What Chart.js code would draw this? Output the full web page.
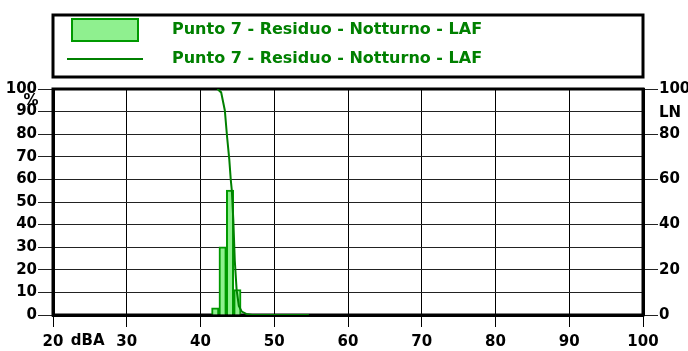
<!DOCTYPE html>
<html lang="it">
<head>
  <meta charset="UTF-8" />
  <title>Punto 7 - Residuo - Notturno - LAF</title>
  <style>
    * { margin: 0; padding: 0; box-sizing: border-box; }
    body { background: white; width: 688px; height: 351px; overflow: hidden; }
    #wrap { position: relative; width: 688px; height: 351px; }
  </style>
</head>
<body>
  <div id="wrap"><canvas id="chartCanvas" width="688" height="351"></canvas></div>

  <script src="https://cdn.jsdelivr.net/npm/chart.js"></script>
  <script>
    // Distribuzione (istogramma, % per classe di 1 dBA)
    const barLevels = [42, 43, 44, 45];
    const barPercent = [3.2, 30.2, 55.3, 11.3];

    // Curva cumulativa LN
    const curveLevels = [42.3, 42.8, 43.3, 43.6, 43.9, 44.1, 44.25, 44.45, 44.65, 44.9, 45.2, 45.6, 46.2, 47.0, 54.7];
    const curveLN = [100, 98.5, 90.5, 79, 69, 60, 55, 42, 24, 11, 4, 1.5, 0.5, 0, 0];

    const xTicks = [20, 30, 40, 50, 60, 70, 80, 90, 100];
    const seriesLabel = 'Punto 7 - Residuo - Notturno - LAF';

    const tickFont = { family: 'DejaVu Sans', size: 15, weight: 'bold' };
    const green = '#008000';

    // cornice, legenda e scritte extra
    const decor = {
      id: 'decor',
      beforeDatasetsDraw(chart) {
        const { ctx, chartArea: a } = chart;
        ctx.save();
        ctx.strokeStyle = '#000';
        ctx.lineWidth = 3;
        ctx.strokeRect(a.left, a.top, a.right - a.left, a.bottom - a.top);
        ctx.restore();
      },
      afterDraw(chart) {
        const { ctx, scales } = chart;
        ctx.save();
        // legend box
        ctx.strokeStyle = '#000';
        ctx.lineWidth = 3;
        ctx.strokeRect(53, 15, 590, 62);
        ctx.fillStyle = '#8ff08f';
        ctx.fillRect(72, 19, 66, 22);
        ctx.strokeStyle = '#009900';
        ctx.lineWidth = 2;
        ctx.strokeRect(72, 19, 66, 22);
        ctx.strokeStyle = green;
        ctx.beginPath();
        ctx.moveTo(67, 59);
        ctx.lineTo(143, 59);
        ctx.stroke();
        ctx.font = 'bold 16px "DejaVu Sans"';
        ctx.fillStyle = green;
        ctx.textBaseline = 'middle';
        ctx.textAlign = 'left';
        chart.data.datasets.forEach((ds, i) => {
          ctx.fillText(ds.label, 172, i === 0 ? 30 : 59);
        });
        // axis captions
        ctx.fillStyle = '#000';
        ctx.font = 'bold 15px "DejaVu Sans"';
        ctx.textAlign = 'center';
        ctx.fillText('dBA', scales.x.getPixelForValue(24.7), 341);
        ctx.fillText('%', 31, scales.y.getPixelForValue(94.5));
        ctx.textAlign = 'left';
        ctx.fillText('LN', 659, scales.y2.getPixelForValue(89.5));
        ctx.restore();
      }
    };

    const ctx = document.getElementById('chartCanvas').getContext('2d');
    const chart = new Chart(ctx, {
      type: 'bar',
      data: {
        datasets: [
          {
            type: 'line',
            label: seriesLabel,
            data: curveLevels.map((x, i) => ({ x: x, y: curveLN[i] })),
            yAxisID: 'y2',
            borderColor: green,
            borderWidth: 2,
            pointRadius: 0,
            tension: 0,
            order: 0
          },
          {
            type: 'bar',
            label: seriesLabel,
            data: barLevels.map((x, i) => ({ x: x, y: barPercent[i] })),
            yAxisID: 'y',
            backgroundColor: '#8ff08f',
            borderColor: '#009900',
            borderWidth: 2,
            barPercentage: 1,
            categoryPercentage: 1,
            order: 1
          }
        ]
      },
      options: {
        responsive: false,
        animation: false,
        devicePixelRatio: 1,
        layout: { padding: { top: 89, left: 0, right: 0, bottom: 0 } },
        plugins: { legend: { display: false }, tooltip: { enabled: false } },
        scales: {
          x: {
            type: 'linear',
            min: 20, max: 100,
            offset: false,
            afterBuildTicks(s) { s.ticks = xTicks.map(v => ({ value: v })); },
            afterFit(s) { s.height = 36; },
            grid: { offset: false, color: '#000', lineWidth: 1, tickLength: 12 },
            border: { color: '#000', width: 3 },
            ticks: { color: '#000', font: tickFont, autoSkip: false, maxRotation: 0, padding: 6 }
          },
          y: {
            position: 'left',
            min: 0, max: 100,
            afterFit(s) { s.width = 53; },
            grid: { color: '#222', lineWidth: 1, tickLength: 15 },
            border: { color: '#000', width: 3 },
            ticks: { stepSize: 10, color: '#000', font: tickFont, autoSkip: false, padding: 1 }
          },
          y2: {
            position: 'right',
            min: 0, max: 100,
            afterFit(s) { s.width = 45; },
            grid: { drawOnChartArea: false, color: '#222', lineWidth: 1, tickLength: 15 },
            border: { color: '#000', width: 3 },
            ticks: { stepSize: 20, color: '#000', font: tickFont, autoSkip: false, padding: 1 }
          }
        }
      },
      plugins: [decor]
    });
  </script>
</body>
</html>
